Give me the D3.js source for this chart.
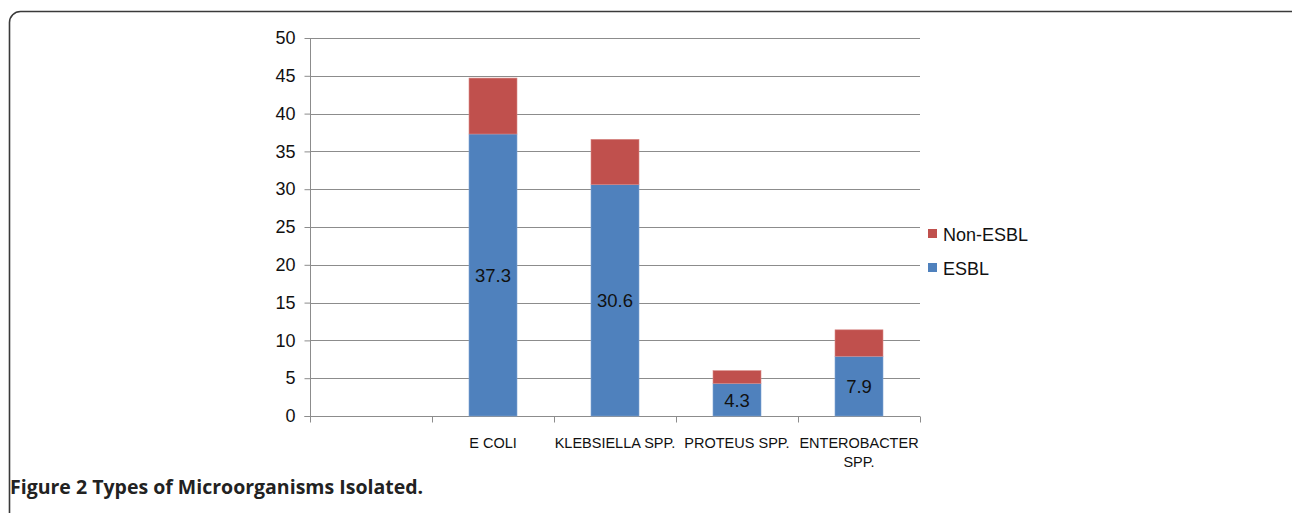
<!DOCTYPE html>
<html>
<head>
<meta charset="utf-8">
<script src="https://cdn.jsdelivr.net/npm/d3@7"></script>
<style>
  body { margin: 0; background: #fff; }
  svg { display: block; }
</style>
</head>
<body>
<script>
// categories (first slot is empty in the original figure)
var categories = ["", "E COLI", "KLEBSIELLA SPP.", "PROTEUS SPP.", "ENTEROBACTER SPP."];
var esbl    = [null, 37.3, 30.6, 4.3, 7.9];
var nonEsbl = [null, 7.4, 6.0, 1.7, 3.5];
var yTicks  = [0, 5, 10, 15, 20, 25, 30, 35, 40, 45, 50];
var seriesNames = ["Non-ESBL", "ESBL"];

var w = 1292, h = 513;
var blue = "#4f81bd", red = "#c0504d";
var font = "Liberation Sans, Arial, sans-serif";

var svg = d3.select("body").append("svg")
  .attr("width", w)
  .attr("height", h);

// rounded figure frame, runs off the right and bottom edge
svg.append("rect")
  .attr("x", 9.5).attr("y", 11.5)
  .attr("width", 1300).attr("height", 560)
  .attr("rx", 11).attr("ry", 11)
  .attr("fill", "none")
  .attr("stroke", "#3a3a3a")
  .attr("stroke-width", 1.6);

var x = d3.scaleBand()
  .domain(categories.map(function(d, i) { return i; }))
  .range([310, 920]);

var y = d3.scaleLinear()
  .domain([0, 50])
  .range([416, 38]);

// gridlines
svg.append("g").selectAll("line")
  .data(yTicks.filter(function(d) { return d > 0; }))
  .enter().append("line")
  .attr("x1", 310).attr("x2", 920)
  .attr("y1", function(d) { return Math.round(y(d)) + 0.5; })
  .attr("y2", function(d) { return Math.round(y(d)) + 0.5; })
  .attr("stroke", "#8c8c8c")
  .attr("stroke-width", 1);

// y axis
var yAxis = svg.append("g")
  .attr("transform", "translate(310.5,0)")
  .call(d3.axisLeft(y).tickValues(yTicks).tickSize(6).tickPadding(9)
    .tickFormat(d3.format("d")));
yAxis.select(".domain").attr("stroke", "#8c8c8c").attr("d", "M-6," + (Math.round(y(0)) + 0.5) + "H0V" + Math.round(y(50)));
yAxis.selectAll(".tick line").attr("stroke", "#8c8c8c");
yAxis.selectAll(".tick text")
  .attr("font-family", font)
  .attr("font-size", "18px")
  .attr("fill", "#111");

// x axis
var xAxis = svg.append("g")
  .attr("transform", "translate(0," + (Math.round(y(0)) + 0.5) + ")");
xAxis.append("line")
  .attr("x1", 310).attr("x2", 920)
  .attr("stroke", "#8c8c8c");
xAxis.selectAll("line.tk")
  .data(d3.range(categories.length + 1))
  .enter().append("line")
  .attr("class", "tk")
  .attr("x1", function(i) { return Math.round(310 + i * x.step()) + 0.5; })
  .attr("x2", function(i) { return Math.round(310 + i * x.step()) + 0.5; })
  .attr("y1", 0).attr("y2", 6)
  .attr("stroke", "#8c8c8c");

var labels = xAxis.selectAll("text")
  .data(categories)
  .enter().append("text")
  .attr("x", function(d, i) { return x(i) + x.bandwidth() / 2; })
  .attr("y", 31)
  .attr("text-anchor", "middle")
  .attr("font-family", font)
  .attr("font-size", "14.5px")
  .attr("fill", "#111");
labels.each(function(d) {
  var t = d3.select(this);
  var lines = d.length > 15 ? d.split(" ") : [d];
  lines.forEach(function(s, k) {
    t.append("tspan")
      .attr("x", t.attr("x"))
      .attr("dy", k === 0 ? 0 : 19)
      .text(s);
  });
});

// stacked bars
var barW = 48;
var bars = svg.append("g");
categories.forEach(function(c, i) {
  if (esbl[i] == null) return;
  var cx = x(i) + x.bandwidth() / 2;
  bars.append("rect")
    .attr("x", cx - barW / 2)
    .attr("y", y(esbl[i]))
    .attr("width", barW)
    .attr("height", y(0) - y(esbl[i]))
    .attr("fill", blue)
    .attr("stroke", "#7fa3d3")
    .attr("stroke-width", 0.6);
  bars.append("rect")
    .attr("x", cx - barW / 2)
    .attr("y", y(esbl[i] + nonEsbl[i]))
    .attr("width", barW)
    .attr("height", y(esbl[i]) - y(esbl[i] + nonEsbl[i]))
    .attr("fill", red)
    .attr("stroke", "#d98a88")
    .attr("stroke-width", 0.6);
  bars.append("text")
    .attr("x", cx)
    .attr("y", (y(0) + y(esbl[i])) / 2 + 7)
    .attr("text-anchor", "middle")
    .attr("font-family", font)
    .attr("font-size", "18.5px")
    .attr("fill", "#111")
    .text(esbl[i]);
});

// legend
var legend = svg.append("g");
var legendColors = [red, blue];
seriesNames.forEach(function(s, k) {
  legend.append("rect")
    .attr("x", 928).attr("y", 229 + k * 34)
    .attr("width", 9).attr("height", 9)
    .attr("fill", legendColors[k]);
  legend.append("text")
    .attr("x", 943).attr("y", 240.5 + k * 34)
    .attr("font-family", font)
    .attr("font-size", "18px")
    .attr("fill", "#111")
    .text(s);
});

// caption
var cap = svg.append("text")
  .attr("x", 10).attr("y", 494)
  .attr("font-family", "Open Sans, sans-serif")
  .attr("font-size", "19.5px")
  .attr("fill", "#222");
cap.append("tspan").attr("font-weight", "bold").text("Figure 2 ");
cap.append("tspan").attr("font-weight", "bold").text("Types of Microorganisms Isolated.");
</script>
</body>
</html>
